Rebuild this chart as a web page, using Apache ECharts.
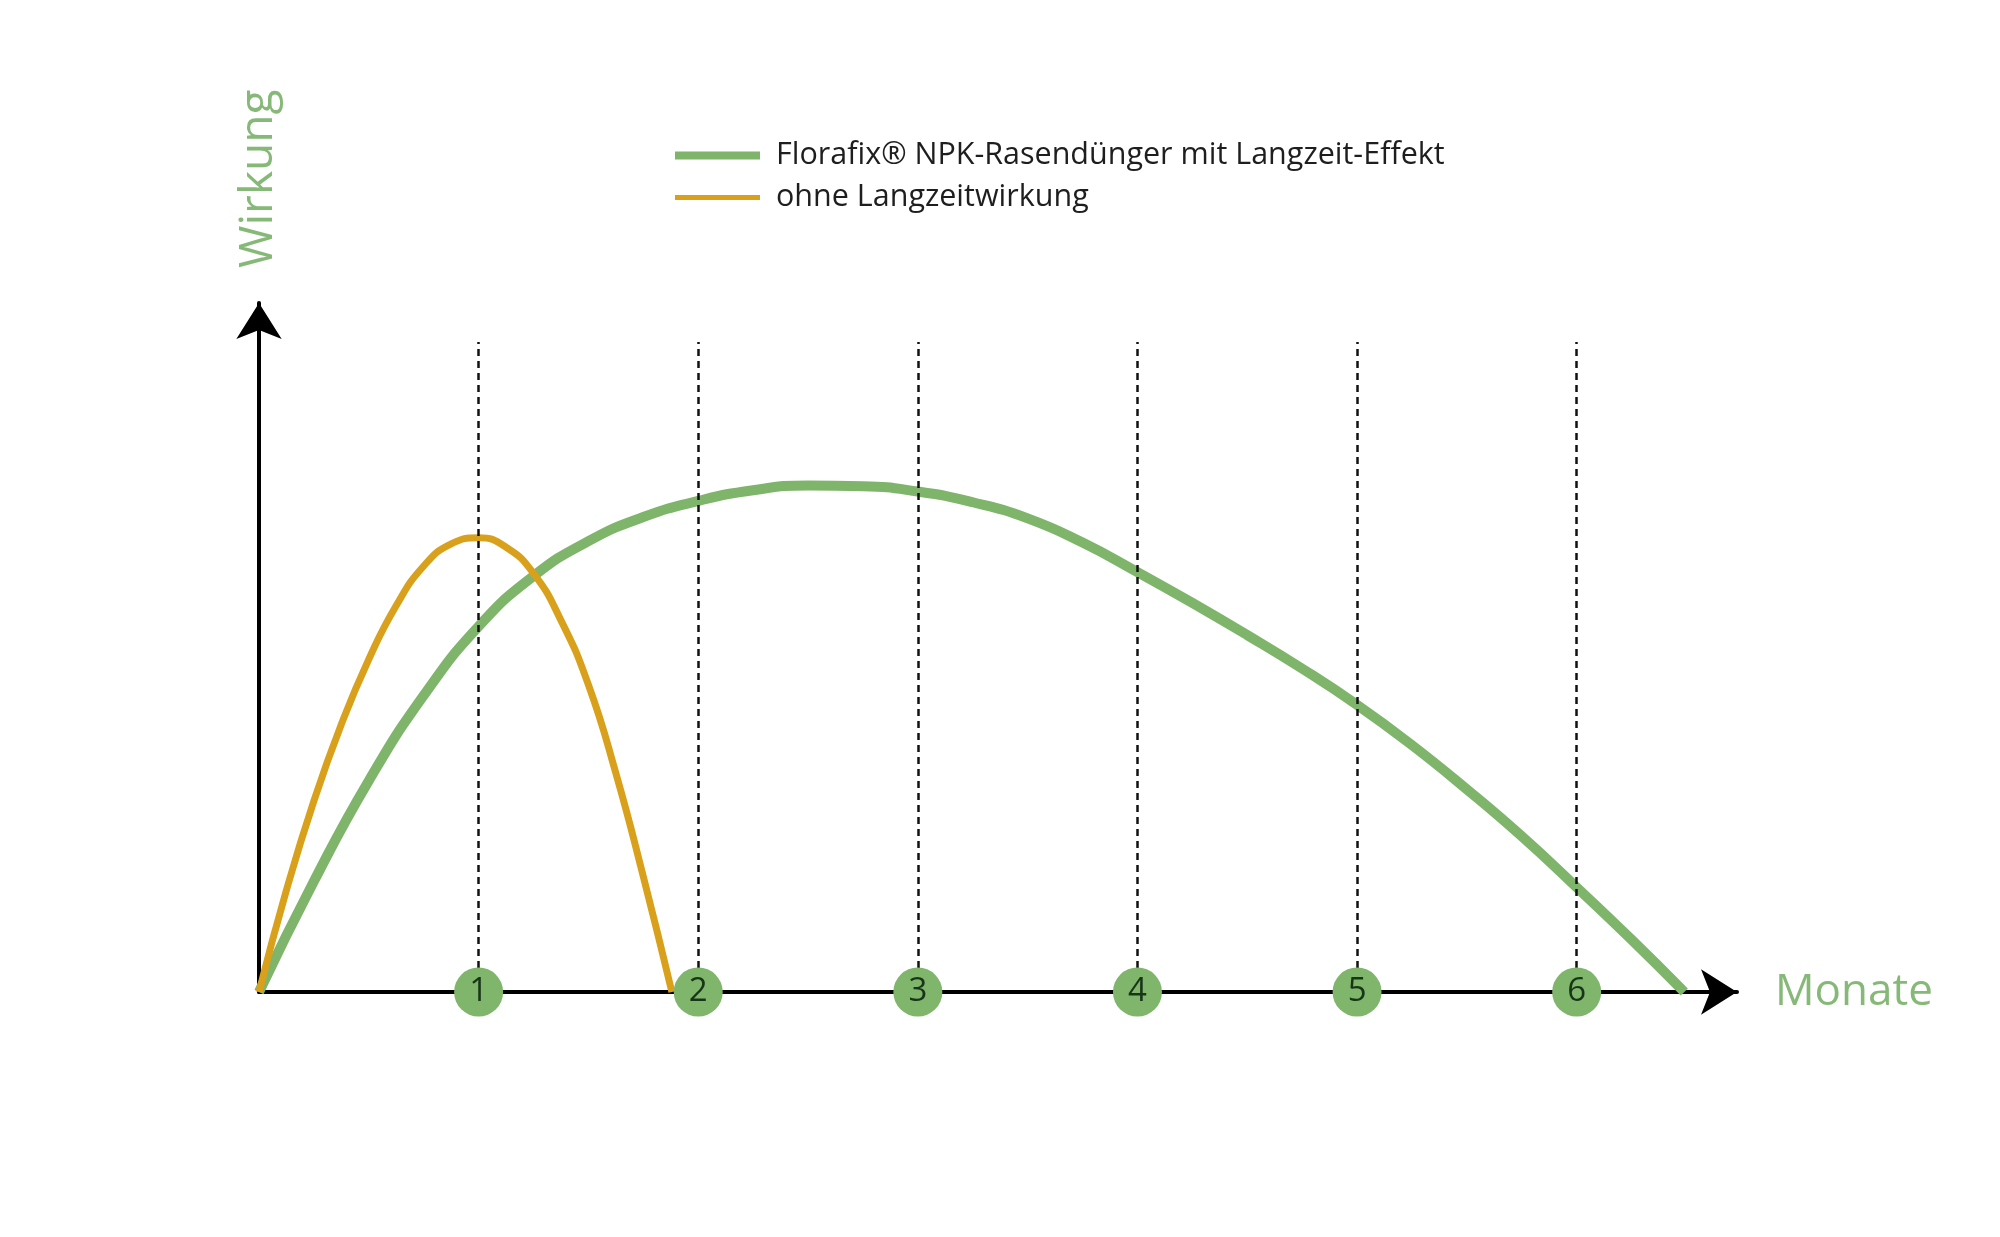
<!DOCTYPE html>
<html>
<head>
<meta charset="utf-8">
<script src="https://cdn.jsdelivr.net/npm/echarts@6/dist/echarts.min.js"></script>
<style>
  html, body { margin: 0; padding: 0; background: #fff; }
  #chart { width: 2000px; height: 1237px; }
</style>
</head>
<body>
<div id="chart"></div>
<script>
// Werte (x = Monate, y = Wirkung in relativen Einheiten)
const greenMonths = [0, 0.25, 0.5, 0.75, 1, 1.25, 1.5, 1.75, 2, 2.25, 2.5, 2.75, 3, 3.25, 3.5, 3.75, 4, 4.25, 4.5, 4.75, 5, 5.25, 5.5, 5.75, 6, 6.25, 6.49]
const greenValues = [0, 16.5, 31.5, 44.2, 54.5, 62, 67.2, 70.8, 73.2, 74.8, 75.5, 75.4, 74.6, 73, 70.6, 67, 62.6, 58, 53.2, 48.2, 42.8, 36.8, 30.2, 23.2, 15.6, 7.8, 0]

const orangeMonths = [0, 0.125, 0.25, 0.375, 0.5, 0.625, 0.75, 0.875, 1, 1.125, 1.25, 1.375, 1.5, 1.625, 1.75, 1.88]
const orangeValues = [0, 15.2, 28.5, 39.9, 49.6, 57.6, 63.5, 66.8, 67.7, 66.3, 62.4, 55.4, 45.8, 32.6, 17.2, 0]

const monthTicks = [1, 2, 3, 4, 5, 6]
const monthLabels = ['1', '2', '3', '4', '5', '6']

const seriesNames = ['Florafix® NPK-Rasendünger mit Langzeit-Effekt', 'ohne Langzeitwirkung']

const green = '#7fb46b'
const orange = '#d9a11b'
const nameGreen = '#86b978'
const font = 'Open Sans'

// Höhe, bis zu der die gestrichelten Monatslinien reichen
const dashTop = 96.9

const chart = echarts.init(document.getElementById('chart'))

const legendText = { fontFamily: font, fontSize: 30.5, color: '#1e1e1e', padding: [0, 0, 0, 11] }

const option = {
    animation: false,
    backgroundColor: '#ffffff',
    grid: {
        left: 259,
        right: 263,
        top: 303,
        bottom: 245,
        containLabel: false
    },
    legend: [
        {
            data: [seriesNames[0]],
            left: 670,
            top: 135,
            icon: 'rect',
            itemWidth: 85,
            itemHeight: 8,
            textStyle: legendText
        },
        {
            data: [seriesNames[1]],
            left: 670,
            top: 177,
            icon: 'rect',
            itemWidth: 85,
            itemHeight: 5,
            textStyle: legendText
        }
    ],
    xAxis: {
        type: 'value',
        min: 0,
        max: 6.73,
        name: 'Monate',
        nameLocation: 'end',
        nameGap: 38,
        nameTextStyle: { fontFamily: font, fontSize: 44, color: nameGreen },
        axisLine: {
            show: true,
            symbol: ['none', 'arrow'],
            symbolSize: [34, 36],
            lineStyle: { color: '#000', width: 4 }
        },
        axisTick: { show: false },
        axisLabel: { show: false },
        splitLine: { show: false }
    },
    yAxis: {
        type: 'value',
        min: 0,
        max: 102.7,
        name: 'Wirkung',
        nameLocation: 'end',
        nameRotate: 90,
        nameGap: 35,
        nameTextStyle: { fontFamily: font, fontSize: 46, color: nameGreen, padding: [0, 0, 6, 0] },
        axisLine: {
            show: true,
            symbol: ['none', 'arrow'],
            symbolSize: [34, 36],
            lineStyle: { color: '#000', width: 4 }
        },
        axisTick: { show: false },
        axisLabel: { show: false },
        splitLine: { show: false }
    },
    series: [
        {
            name: seriesNames[0],
            type: 'line',
            data: greenMonths.map((m, i) => [m, greenValues[i]]),
            smooth: true,
            showSymbol: false,
            z: 2,
            lineStyle: { color: green, width: 10 },
            itemStyle: { color: green }
        },
        {
            name: seriesNames[1],
            type: 'line',
            data: orangeMonths.map((m, i) => [m, orangeValues[i]]),
            smooth: true,
            showSymbol: false,
            z: 3,
            lineStyle: { color: orange, width: 7 },
            itemStyle: { color: orange }
        },
        {
            name: 'Monate',
            type: 'scatter',
            data: monthTicks.map(m => [m, 0]),
            symbolSize: 49,
            z: 6,
            itemStyle: { color: '#80b56c', opacity: 1 },
            label: {
                show: true,
                position: 'inside',
                formatter: p => monthLabels[p.dataIndex],
                fontFamily: font,
                fontSize: 33,
                color: '#173517'
            },
            markLine: {
                silent: true,
                symbol: 'none',
                z: 5,
                label: { show: false },
                lineStyle: { color: '#111', width: 2.5, type: [7, 5] },
                data: monthTicks.map(m => [{ coord: [m, 0] }, { coord: [m, dashTop] }])
            }
        }
    ]
}

chart.setOption(option)
</script>
</body>
</html>
